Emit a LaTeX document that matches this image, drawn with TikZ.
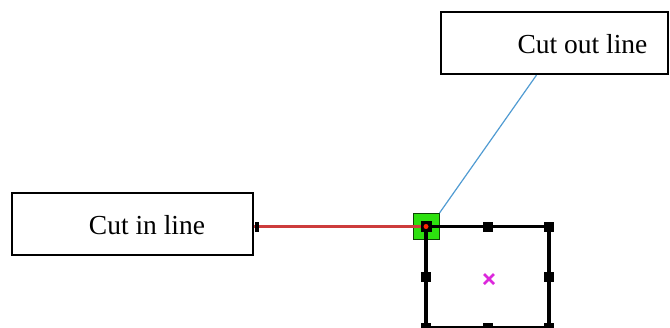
\documentclass[tikz,border=0pt]{standalone}
\usepackage{fontspec}
\setmainfont{Liberation Serif}
\usetikzlibrary{calc}

\definecolor{verde}{RGB}{45,225,15}
\definecolor{rojo}{RGB}{205,60,60}
\definecolor{azul}{RGB}{80,155,210}
\definecolor{magen}{RGB}{220,40,220}

\begin{document}
\begin{tikzpicture}[x=1pt, y=-1pt, line width=2.2pt,
  texto/.style={font=\fontsize{27.5}{33}\selectfont, inner sep=0pt},
  caja/.style={draw, minimum width=#1, minimum height=62pt, inner sep=0pt},
  asa/.style={fill=black, minimum size=10pt, inner sep=0pt}]
  \useasboundingbox (0,0) rectangle (670,327);
  \clip (0,0) rectangle (670,327);

  \node[caja=241pt, label={[texto, xshift=14.5pt, yshift=-1pt]center:Cut in line}]
    (entrada) at (132.5,224) {};
  \node[caja=227pt, label={[texto, xshift=28pt, yshift=-1.5pt]center:Cut out line}]
    (salida) at (554.5,43) {};

  % punto de inicio
  \node[draw=black!70!verde, fill=verde, line width=1pt, minimum size=26pt,
        inner sep=0pt] (inicio) at (426,226.5) {};
  \coordinate (esq) at (549,328);

  \draw[rojo, line width=2.2pt] (entrada.east |- inicio.center) -- (inicio.center);
  \draw[azul, line width=1.2pt] ([xshift=-18pt]salida.south) -- (inicio.north east);
  \node[fill=black, minimum width=4pt, minimum height=10pt, inner sep=0pt,
        anchor=west] at (entrada.east |- inicio.center) {};

  \draw[line width=3.2pt] (inicio.center) rectangle (esq);
  \foreach \p in {(488,226.5),(549,226.5),(426,277),(549,277),
                  (426,328),(488,328),(549,328)}
    \node[asa] at \p {};
  \node[asa, minimum size=11pt] at (inicio.center) {};
  \fill[red!70!orange] (inicio.center) circle (2.5pt);

  \draw[magen, line width=2.5pt] (484,274) -- (494,284) (484,284) -- (494,274);
\end{tikzpicture}
\end{document}
